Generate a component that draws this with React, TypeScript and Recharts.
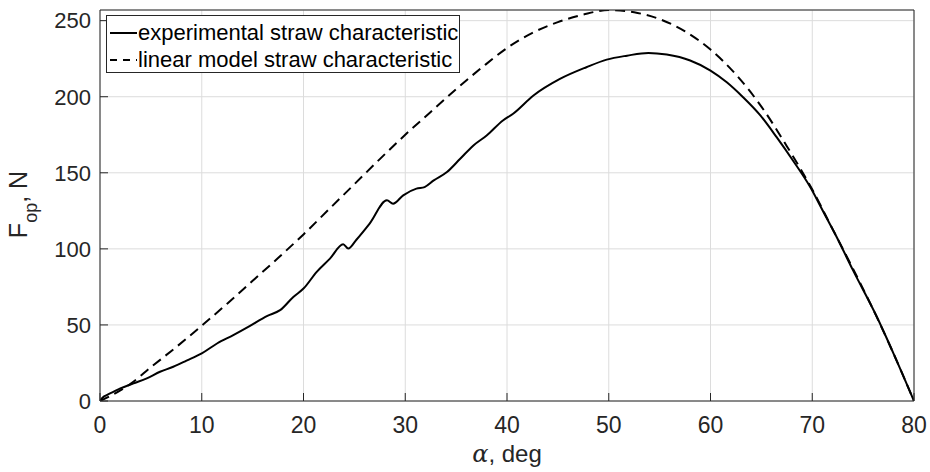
import React from 'react';
import { LineChart, Line, XAxis, YAxis, CartesianGrid, Legend } from 'recharts';

const expAlpha = [0, 0.3, 0.66, 1.3, 2, 3.3, 4.6, 5.9, 7.2, 8.5, 10, 11.5, 13.1, 14.7, 16.4, 17.7, 19, 20, 21.3, 22.6, 23.9, 24.4, 25.2, 26.5, 28.2, 28.8, 29.8, 31.1, 31.9, 32.8, 34.1, 35.4, 36.7, 38, 39.6, 40.6, 42.6, 45.2, 47.8, 49.8, 51.8, 53.9, 55.7, 58, 60, 61.6, 63.2, 64.9, 66.5, 68.1, 69.8, 71.1, 72.4, 74, 76.3, 78, 80];
const expForce = [0, 2.5, 3.9, 6.0, 8.3, 11.6, 14.9, 19.2, 22.5, 26.5, 31.3, 37.8, 43.3, 49.2, 55.8, 59.7, 68.4, 73.9, 84.9, 93.6, 103, 100.2, 106, 116.6, 131.9, 129.7, 135.2, 139.6, 140.6, 145, 150.5, 159.2, 168, 174.5, 184.4, 188.8, 200.8, 211.7, 219.4, 224.4, 227, 228.8, 227.7, 223.8, 217.2, 209.5, 199.7, 187.7, 173.4, 158.1, 140.6, 124.2, 107.8, 86, 56, 31, 0];

const modelAlpha = [0, 1, 2, 3, 5, 7.5, 10, 12.5, 15, 17.5, 20, 22.5, 25, 27.5, 30, 32.5, 35, 37.5, 40, 42.5, 45, 47.5, 50, 52.5, 55, 57.5, 60, 62.5, 65, 67.5, 70, 72, 74, 76, 78, 80];
const modelForce = [0, 3.3, 7, 11.3, 22.2, 35.5, 49.5, 64, 79, 94, 109.5, 126, 142.5, 159, 175, 190, 205, 219, 232, 242, 249, 254, 257, 255.5, 251, 243, 231, 214.6, 193.5, 167.5, 139, 113, 87, 60, 31, 0];

const xTicks = [0, 10, 20, 30, 40, 50, 60, 70, 80];
const yTicks = [0, 50, 100, 150, 200, 250];

const seriesNames = ['experimental straw characteristic', 'linear model straw characteristic'];

const expData = expAlpha.map((a, i) => ({ a, f: expForce[i] }));
const modelData = modelAlpha.map((a, i) => ({ a, f: modelForce[i] }));

const AX = '#262626';
const FONT = '"Liberation Sans", Arial, Helvetica, sans-serif';

const LegendBox = () => (
  <div
    style={{
      width: 354,
      height: 58,
      boxSizing: 'border-box',
      border: `1px solid ${AX}`,
      background: '#fff',
      fontFamily: FONT,
      fontSize: 22,
      color: '#000',
      position: 'relative',
    }}
  >
    {seriesNames.map((name, i) => (
      <div
        key={name}
        style={{
          position: 'absolute',
          left: 1,
          top: i === 0 ? 4 : 31,
          height: 26,
          display: 'flex',
          alignItems: 'center',
          whiteSpace: 'nowrap',
        }}
      >
        <svg width={30} height={26} style={{ display: 'block' }}>
          <line
            x1={2}
            y1={13}
            x2={29}
            y2={13}
            stroke="#000"
            strokeWidth={2}
            strokeDasharray={i === 1 ? '7 6' : undefined}
          />
        </svg>
        <span style={{ lineHeight: '26px' }}>{name}</span>
      </div>
    ))}
  </div>
);

const YLabel = (props: any) => {
  const vb = props.viewBox || {};
  const cx = 27;
  const cy = vb.y + vb.height / 2 - 1;
  return (
    <text
      x={cx}
      y={cy}
      transform={`rotate(-90 ${cx} ${cy})`}
      textAnchor="middle"
      fill={AX}
      style={{ fontFamily: FONT, fontSize: 25 }}
    >
      <tspan>F</tspan>
      <tspan fontSize={18} dy={10}>op</tspan>
      <tspan dy={-10}>, N</tspan>
    </text>
  );
};

const XLabel = (props: any) => {
  const vb = props.viewBox || {};
  const cx = vb.x + vb.width / 2;
  const cy = vb.y + 61;
  return (
    <text x={cx} y={cy} textAnchor="middle" fill={AX} style={{ fontFamily: FONT, fontSize: 24 }}>
      <tspan style={{ fontFamily: '"DejaVu Serif", "Liberation Serif", serif', fontStyle: 'italic' }}>α</tspan>
      <tspan>, deg</tspan>
    </text>
  );
};

export default function App() {
  return (
    <div style={{ position: 'absolute', left: 0, top: 0, width: 930, height: 472, background: '#fff' }}>
      <LineChart
        width={930}
        height={472}
        margin={{ top: 9, right: 15, bottom: 0, left: 0 }}
        style={{ fontFamily: FONT }}
      >
        <CartesianGrid xAxisId="x" yAxisId="y" stroke="#dcdcdc" strokeWidth={1} />
        <XAxis
          xAxisId="x"
          type="number"
          dataKey="a"
          domain={[0, 80]}
          ticks={xTicks}
          allowDataOverflow
          height={71}
          stroke={AX}
          tickSize={-8}
          tickMargin={24}
          tick={{ fill: AX, fontSize: 23, fontFamily: FONT }}
          interval={0}
          label={<XLabel />}
        />
        <XAxis
          xAxisId="top"
          orientation="top"
          type="number"
          dataKey="a"
          domain={[0, 80]}
          ticks={xTicks}
          allowDataOverflow
          height={1}
          tick={false}
          tickSize={-8}
          stroke={AX}
          interval={0}
        />
        <YAxis
          yAxisId="y"
          type="number"
          domain={[0, 257]}
          ticks={yTicks}
          allowDataOverflow
          width={100}
          stroke={AX}
          tickSize={-8}
          tickMargin={17}
          tick={{ fill: AX, fontSize: 22, fontFamily: FONT }}
          interval={0}
          label={<YLabel />}
        />
        <YAxis
          yAxisId="right"
          orientation="right"
          type="number"
          domain={[0, 257]}
          ticks={yTicks}
          allowDataOverflow
          width={1}
          tick={false}
          tickSize={-8}
          stroke={AX}
          interval={0}
        />
        <Legend
          layout="vertical"
          verticalAlign="middle"
          align="center"
          content={<LegendBox />}
          wrapperStyle={{ position: 'absolute', left: 106, top: 15, width: 354, height: 58 }}
        />
        <Line
          xAxisId="x"
          yAxisId="y"
          data={expData}
          dataKey="f"
          name={seriesNames[0]}
          type="monotone"
          stroke="#000"
          strokeWidth={2}
          dot={false}
          activeDot={false}
          isAnimationActive={false}
        />
        <Line
          xAxisId="x"
          yAxisId="y"
          data={modelData}
          dataKey="f"
          name={seriesNames[1]}
          type="monotone"
          stroke="#000"
          strokeWidth={2}
          strokeDasharray="10 6"
          dot={false}
          activeDot={false}
          isAnimationActive={false}
        />
      </LineChart>
    </div>
  );
}
